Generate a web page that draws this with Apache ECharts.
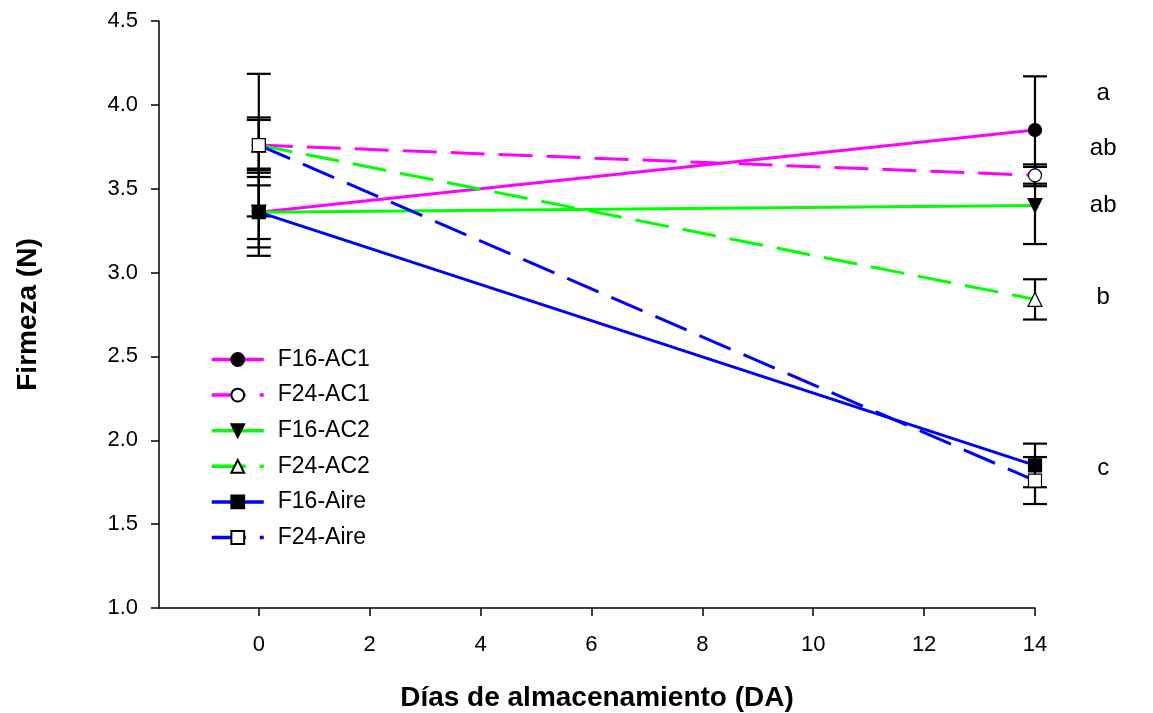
<!DOCTYPE html>
<html>
<head>
<meta charset="utf-8">
<script src="https://cdn.jsdelivr.net/npm/echarts@6/dist/echarts.min.js"></script>
<style>html,body{margin:0;padding:0;background:#fff}#c{width:1153px;height:713px}</style>
</head>
<body>
<div id="c"></div>
<script>
const days = [0, 14];
const xTicks = [0, 2, 4, 6, 8, 10, 12, 14];
const names = ['F16-AC1', 'F24-AC1', 'F16-AC2', 'F24-AC2', 'F16-Aire', 'F24-Aire'];
const f16ac1 = [3.36, 3.85];
const f24ac1 = [3.76, 3.58];
const f16ac2 = [3.36, 3.40];
const f24ac2 = [3.76, 2.84];
const f16aire = [3.36, 1.85];
const f24aire = [3.76, 1.76];
const f16ac1Err = [0.26, 0.32];
const f24ac1Err = [0.165, 0.065];
const f16ac2Err = [0.21, 0.23];
const f24ac2Err = [0.15, 0.12];
const f16aireErr = [0.16, 0.13];
const f24aireErr = [0.425, 0.14];
const letters = ['a', 'ab', 'ab', 'b', 'c'];
const letterY = [4.07, 3.74, 3.40, 2.85, 1.83];
const letterX = 15.23;

const values = [f16ac1, f24ac1, f16ac2, f24ac2, f16aire, f24aire];
const errs = [f16ac1Err, f24ac1Err, f16ac2Err, f24ac2Err, f16aireErr, f24aireErr];
const colors = ['#FF00FF', '#FF00FF', '#00FF00', '#00FF00', '#0000FF', '#0000FF'];
const dashed = [false, true, false, true, false, true];
const symbols = ['circle', 'circle', 'triangle', 'triangle', 'rect', 'rect'];
const rotates = [0, 0, 180, 0, 0, 0];
const filled = [true, false, true, false, true, false];

const font = 'Liberation Sans, Arial, sans-serif';
const chart = echarts.init(document.getElementById('c'), null, {renderer: 'canvas'});

const series = [];
const errData = [];
values.forEach((v, i) => v.forEach((y, j) => errData.push([days[j], y, errs[i][j]])));
series.push({
  type: 'custom',
  z: 1,
  silent: true,
  data: errData,
  renderItem: function (params, api) {
    const x = api.value(0), y = api.value(1), e = api.value(2);
    const top = api.coord([x, y + e]);
    const bot = api.coord([x, y - e]);
    const hw = 12;
    const st = {stroke: '#000', lineWidth: 2.2};
    return {type: 'group', children: [
      {type: 'line', shape: {x1: top[0], y1: top[1], x2: bot[0], y2: bot[1]}, style: st},
      {type: 'line', shape: {x1: top[0] - hw, y1: top[1], x2: top[0] + hw, y2: top[1]}, style: st},
      {type: 'line', shape: {x1: bot[0] - hw, y1: bot[1], x2: bot[0] + hw, y2: bot[1]}, style: st}
    ]};
  }
});
names.forEach((n, i) => {
  series.push({
    name: n,
    type: 'line',
    z: 3,
    data: days.map((d, j) => [d, values[i][j]]),
    symbol: symbols[i],
    symbolRotate: rotates[i],
    symbolSize: symbols[i] === 'triangle' ? 14 : 13,
    showAllSymbol: true,
    lineStyle: {color: colors[i], width: 3, type: dashed[i] ? [34, 14] : 'solid'},
    itemStyle: {color: filled[i] ? '#000' : '#fff', borderColor: '#000', borderWidth: 1.2},
    emphasis: {disabled: true},
    animation: false
  });
});
series.push({
  type: 'custom',
  silent: true,
  clip: false,
  data: letters.map((l, i) => [letterX, letterY[i], i]),
  renderItem: function (params, api) {
    const p = api.coord([api.value(0), api.value(1)]);
    return {type: 'text', style: {text: letters[api.value(2)], x: p[0], y: p[1], align: 'center', verticalAlign: 'middle', fontSize: 24, fontFamily: font, fill: '#000'}};
  }
});

chart.setOption({
  animation: false,
  backgroundColor: '#fff',
  grid: {left: 159, width: 876, top: 21, height: 587, containLabel: false, outerBoundsMode: 'none'},
  legend: {
    data: names,
    orient: 'vertical',
    left: 210,
    top: 348,
    itemWidth: 52,
    itemHeight: 16,
    itemGap: 12.6,
    padding: 0,
    lineStyle: {width: 3.5},
    textStyle: {fontSize: 23, fontFamily: font, color: '#000', padding: [0, 0, 0, 9]},
    selectedMode: false
  },
  xAxis: {
    type: 'value',
    min: -1.8,
    max: 14,
    name: 'Días de almacenamiento (DA)',
    nameLocation: 'middle',
    nameGap: 76,
    nameTextStyle: {fontSize: 28, fontWeight: 'bold', fontFamily: font, color: '#000'},
    axisLine: {show: true, onZero: false, lineStyle: {color: '#000', width: 1.5}},
    axisTick: {show: true, length: 8, customValues: xTicks, lineStyle: {color: '#000', width: 1.5}},
    axisLabel: {customValues: xTicks, margin: 26, fontSize: 22, fontFamily: font, color: '#000'},
    splitLine: {show: false}
  },
  yAxis: {
    type: 'value',
    min: 1.0,
    max: 4.5,
    interval: 0.5,
    name: 'Firmeza (N)',
    nameLocation: 'middle',
    nameGap: 117,
    nameRotate: 90,
    nameTextStyle: {fontSize: 28, fontWeight: 'bold', fontFamily: font, color: '#000'},
    axisLine: {show: true, onZero: false, lineStyle: {color: '#000', width: 1.5}},
    axisTick: {show: true, length: 8, lineStyle: {color: '#000', width: 1.5}},
    axisLabel: {margin: 21, fontSize: 22, fontFamily: font, color: '#000', formatter: v => v.toFixed(1)},
    splitLine: {show: false}
  },
  series: series
});
</script>
</body>
</html>
